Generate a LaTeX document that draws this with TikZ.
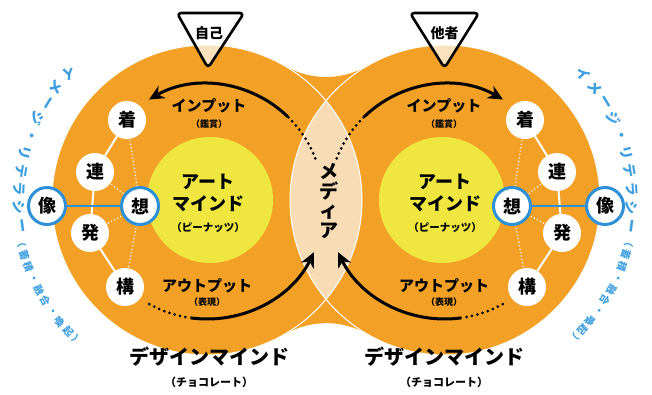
\documentclass[tikz,border=0pt]{standalone}
\usepackage{fontspec}
\setmainfont{Noto Sans CJK JP}[BoldFont={Noto Sans CJK JP Black}]
\usetikzlibrary{arrows.meta}
\definecolor{org}{HTML}{F2A126}
\definecolor{peach}{HTML}{F8DCB6}
\definecolor{ylw}{HTML}{EFE73F}
\definecolor{blu}{HTML}{2E90D6}
\definecolor{blutxt}{HTML}{3C9FE0}
\tikzset{
  kn/.style={circle, fill=white, minimum size=38pt, inner sep=0pt, font=\bfseries\fontsize{18}{18}\selectfont},
  bn/.style={kn, draw=blu, line width=3pt, minimum size=37pt},
  wline/.style={white, line width=2pt},
  wdot/.style={white, line width=1.6pt, line cap=round, dash pattern=on 0pt off 3.5pt},
  arrline/.style={black, line width=3pt, -{Stealth[length=15pt,width=14pt]}},
  dotline/.style={black, line width=3pt, line cap=round, dash pattern=on 0pt off 5.5pt},
  lbl/.style={font=\bfseries\fontsize{15}{15}\selectfont},
  sublbl/.style={font=\bfseries\fontsize{9}{9}\selectfont},
  tri/.style={draw=black, line width=2.6pt, rounded corners=4pt, line join=round, fill=white, fill opacity=0.7},
  btbig/.style={blutxt, inner sep=0pt, font=\bfseries\fontsize{14}{14}\selectfont},
  btsmall/.style={blutxt, inner sep=0pt, font=\bfseries\fontsize{10}{10}\selectfont}
}
\begin{document}
\begin{tikzpicture}[x=1pt,y=1pt]
\useasboundingbox (0,0) rectangle (652,394);
% orange body
\fill[org] (207,194) circle (155);
\fill[org] (445,194) circle (155);
\fill[org] (284.74,328.1) arc[start angle=239.9, end angle=300.1, radius=82.27]
  -- (367.26,59.9) arc[start angle=60.1, end angle=119.9, radius=82.27] -- cycle;
% lens
\begin{scope}
  \clip (207,194) circle (155);
  \fill[peach] (445,194) circle (155);
\end{scope}
\draw[white, line width=1pt] (207,194) circle (155);
\draw[white, line width=1pt] (445,194) circle (155);
% yellow
\fill[ylw] (210,194) circle (63);
\fill[ylw] (442,194) circle (63);
% triangles
\draw[tri] (177,381) -- (244,381) -- (208,326) -- cycle;
\draw[tri] (410,381) -- (479,381) -- (444.5,326) -- cycle;
\node[font=\bfseries\fontsize{14}{14}\selectfont] (jiko) at (209,361) {自己};
\node[font=\bfseries\fontsize{14}{14}\selectfont] (tasha) at (444.5,361) {他者};
% art mind
\node[font=\bfseries\fontsize{18}{18}\selectfont] (artL1) at (208,212) {アート};
\node[font=\bfseries\fontsize{18}{18}\selectfont] (artL2) at (208,190) {マインド};
\node[font=\bfseries\fontsize{10.5}{10.5}\selectfont] (artL3) at (208,166) {（ピーナッツ）};
\node[font=\bfseries\fontsize{18}{18}\selectfont] (artR1) at (445,212) {アート};
\node[font=\bfseries\fontsize{18}{18}\selectfont] (artR2) at (445,190) {マインド};
\node[font=\bfseries\fontsize{10.5}{10.5}\selectfont] (artR3) at (445,166) {（ピーナッツ）};
% media
\node[align=center, font=\bfseries\fontsize{19}{19.5}\selectfont] (media) at (329,193) {メ\\デ\\ィ\\ア};
% input / output labels
\node[lbl] (inL) at (209,288) {インプット};
\node[sublbl] (inLs) at (209,270) {（鑑賞）};
\node[lbl] (inR) at (444,288) {インプット};
\node[sublbl] (inRs) at (444,270) {（鑑賞）};
\node[lbl] (outL) at (207,108) {アウトプット};
\node[sublbl] (outLs) at (207,92) {（表現）};
\node[lbl] (outR) at (444,108) {アウトプット};
\node[sublbl] (outRs) at (444,92) {（表現）};
% design mind
\node[font=\bfseries\fontsize{20}{20}\selectfont] (dmL) at (209,37) {デザインマインド};
\node[font=\bfseries\fontsize{11}{11}\selectfont] (dmLs) at (209,12) {（チョコレート）};
\node[font=\bfseries\fontsize{20}{20}\selectfont] (dmR) at (444,37) {デザインマインド};
\node[font=\bfseries\fontsize{11}{11}\selectfont] (dmRs) at (444,12) {（チョコレート）};
% arrows left
\draw[dotline] ([shift={(207,194)}]21:116) arc[start angle=21, end angle=46, radius=116];
\draw[arrline] ([shift={(207,194)}]46:116) arc[start angle=46, end angle=120, radius=116];
\draw[dotline] ([shift={(207,194)}]241:119) arc[start angle=241, end angle=262, radius=119];
\draw[arrline] ([shift={(207,194)}]262:119) arc[start angle=262, end angle=334, radius=119];
% arrows right
\draw[dotline] ([shift={(445,194)}]159:116) arc[start angle=159, end angle=134, radius=116];
\draw[arrline] ([shift={(445,194)}]134:116) arc[start angle=134, end angle=60, radius=116];
\draw[dotline] ([shift={(445,194)}]299:119) arc[start angle=299, end angle=278, radius=119];
\draw[arrline] ([shift={(445,194)}]278:119) arc[start angle=278, end angle=206, radius=119];
% small nodes left
\coordinate (cL1) at (127,274);
\coordinate (cL2) at (95,222);
\coordinate (cL3) at (140,188);
\coordinate (cL4) at (47,188);
\coordinate (cL5) at (90,161);
\coordinate (cL6) at (125,107);
\draw[wline] (cL1) -- (cL2) -- (cL5) -- (cL6);
\draw[wdot] (cL1) -- (cL3); \draw[wdot] (cL2) -- (cL3);
\draw[wdot] (cL5) -- (cL3); \draw[wdot] (cL6) -- (cL3);
\draw[blu, line width=2.5pt] (cL4) -- (cL3);
\node[kn] (chakuL) at (cL1) {着};
\node[kn] (renL) at (cL2) {連};
\node[bn] (souL) at (cL3) {想};
\node[bn] (zouL) at (cL4) {像};
\node[kn] (hatsuL) at (cL5) {発};
\node[kn] (kouL) at (cL6) {構};
% small nodes right
\coordinate (cR1) at (525,274);
\coordinate (cR2) at (557,222);
\coordinate (cR3) at (512,188);
\coordinate (cR4) at (605,188);
\coordinate (cR5) at (562,161);
\coordinate (cR6) at (527,107);
\draw[wline] (cR1) -- (cR2) -- (cR5) -- (cR6);
\draw[wdot] (cR1) -- (cR3); \draw[wdot] (cR2) -- (cR3);
\draw[wdot] (cR5) -- (cR3); \draw[wdot] (cR6) -- (cR3);
\draw[blu, line width=2.5pt] (cR4) -- (cR3);
\node[kn] (chakuR) at (cR1) {着};
\node[kn] (renR) at (cR2) {連};
\node[bn] (souR) at (cR3) {想};
\node[bn] (zouR) at (cR4) {像};
\node[kn] (hatsuR) at (cR5) {発};
\node[kn] (kouR) at (cR6) {構};
% blue arc texts
\foreach \c [count=\i from 0] in {イ,メ,ー,ジ,・,リ,テ,ラ,シ,ー} {
  \pgfmathsetmacro\a{137.5+5.6*\i}
  \node[btbig, rotate=\a+90] at ([shift={(207,194)}]\a:188) {\c};
  \pgfmathsetmacro\b{42.5-5.6*\i}
  \node[btbig, rotate=\b-90] at ([shift={(445,194)}]\b:187) {\c};
}
\foreach \c [count=\i from 0] in {（,蓄,積,・,融,合,・,喚,起,）} {
  \pgfmathsetmacro\a{193+3.8*\i}
  \node[btsmall, rotate=\a+90] at ([shift={(207,194)}]\a:191) {\c};
  \pgfmathsetmacro\b{-13-3.8*\i}
  \node[btsmall, rotate=\b-90] at ([shift={(445,194)}]\b:189) {\c};
}
\end{tikzpicture}
\end{document}
